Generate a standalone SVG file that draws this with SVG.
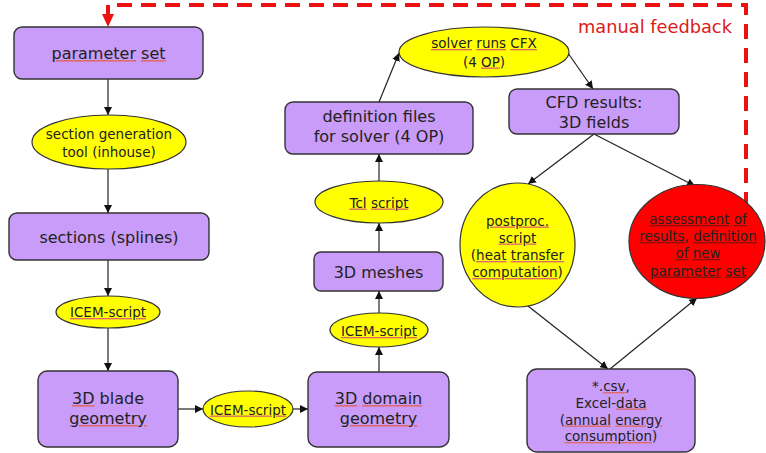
<svg xmlns="http://www.w3.org/2000/svg" width="766" height="453" viewBox="0 0 766 453">
  <defs>
    <style>
      text { font-family: "DejaVu Sans", Verdana, sans-serif; fill: #222; text-anchor: middle; }
      .box { fill: #c99cf9; stroke: #333; stroke-width: 1.4; }
      .yel { fill: #ffff00; stroke: #333; stroke-width: 1.2; }
      .red { fill: #ff0000; stroke: #333; stroke-width: 1.2; }
      .big { font-size: 16px; }
      .sm { font-size: 13.5px; }
      .edge { fill: none; stroke: #222; stroke-width: 1.2; marker-end: url(#arr); }
      .fb { fill: none; stroke: #ee1111; stroke-width: 4; stroke-dasharray: 15 9; }
      .fbt { fill: #e01818; font-size: 17.8px; text-anchor: start; }
      /* spell-check style underline: decoration takes the outer fill, word keeps the text fill */
      .sp { fill: #e06a6a; text-decoration: underline; }
      .sp tspan { fill: #222; }
      .dk .sp { fill: #8a1010; }
    </style>
    <marker id="arr" viewBox="0 0 10 10" refX="10" refY="5" markerWidth="8" markerHeight="8" markerUnits="userSpaceOnUse" orient="auto">
      <path d="M0,0 L10,5 L0,10 z" fill="#111"/>
    </marker>
  </defs>

  <!-- manual feedback loop -->
  <g id="feedback">
    <path class="fb" d="M746,207 V5 H108 V16"/>
    <path d="M102,14 L114,14 L108,27 z" fill="#ee1111"/>
    <text class="fbt" x="578" y="33">manual feedback</text>
  </g>

  <!-- connectors -->
  <g id="connectors">
    <line class="edge" x1="108" y1="79" x2="108" y2="115"/>
    <line class="edge" x1="108" y1="169" x2="108" y2="213"/>
    <line class="edge" x1="108" y1="260" x2="108" y2="296"/>
    <line class="edge" x1="108" y1="328" x2="108" y2="371"/>
    <line class="edge" x1="178" y1="409" x2="203" y2="409"/>
    <line class="edge" x1="293" y1="409" x2="308" y2="409"/>
    <line class="edge" x1="379" y1="372" x2="379" y2="347"/>
    <line class="edge" x1="379" y1="313" x2="379" y2="291"/>
    <line class="edge" x1="379" y1="252" x2="379" y2="223"/>
    <line class="edge" x1="379" y1="181" x2="379" y2="154"/>
    <line class="edge" x1="379" y1="102" x2="399" y2="53"/>
    <line class="edge" x1="568" y1="53" x2="593" y2="89"/>
    <line class="edge" x1="594" y1="134" x2="528" y2="184"/>
    <line class="edge" x1="594" y1="134" x2="695" y2="186"/>
    <line class="edge" x1="528" y1="306" x2="608" y2="369"/>
    <line class="edge" x1="610" y1="369" x2="697" y2="298"/>
  </g>

  <g id="parameter-set">
    <rect class="box" x="14" y="27" width="189" height="52" rx="8"/>
    <text class="big" x="108.5" y="59"><tspan class="sp"><tspan>parameter</tspan></tspan> <tspan class="sp"><tspan>set</tspan></tspan></text>
  </g>

  <g id="section-tool">
    <ellipse class="yel" cx="109" cy="142" rx="77" ry="27"/>
    <text class="sm" x="109" y="139">section generation</text>
    <text class="sm" x="109" y="157">tool (inhouse)</text>
  </g>

  <g id="sections">
    <rect class="box" x="9" y="213" width="200" height="47" rx="8"/>
    <text class="big" x="109" y="243">sections (splines)</text>
  </g>

  <g id="icem-1">
    <ellipse class="yel" cx="108" cy="312" rx="52" ry="16"/>
    <text class="sm" x="108" y="317"><tspan class="sp"><tspan>ICEM-script</tspan></tspan></text>
  </g>

  <g id="blade-geometry">
    <rect class="box" x="38" y="371" width="140" height="76" rx="9"/>
    <text class="big" x="108" y="404"><tspan class="sp"><tspan>3D</tspan></tspan> blade</text>
    <text class="big" x="108" y="424"><tspan class="sp"><tspan>geometry</tspan></tspan></text>
  </g>

  <g id="icem-2">
    <ellipse class="yel" cx="248" cy="409" rx="45" ry="18"/>
    <text class="sm" x="248" y="414.5"><tspan class="sp"><tspan>ICEM-script</tspan></tspan></text>
  </g>

  <g id="domain-geometry">
    <rect class="box" x="308" y="372" width="141" height="75" rx="9"/>
    <text class="big" x="378.5" y="404"><tspan class="sp"><tspan>3D</tspan></tspan> <tspan class="sp"><tspan>domain</tspan></tspan></text>
    <text class="big" x="378.5" y="424"><tspan class="sp"><tspan>geometry</tspan></tspan></text>
  </g>

  <g id="icem-3">
    <ellipse class="yel" cx="379" cy="330" rx="49" ry="17"/>
    <text class="sm" x="379" y="336"><tspan class="sp"><tspan>ICEM-script</tspan></tspan></text>
  </g>

  <g id="meshes">
    <rect class="box" x="314" y="252" width="129" height="39" rx="7"/>
    <text class="big" x="378.5" y="278">3D meshes</text>
  </g>

  <g id="tcl-script">
    <ellipse class="yel" cx="379" cy="202" rx="64" ry="21"/>
    <text class="sm" x="379" y="207.5"><tspan class="sp"><tspan>Tcl</tspan></tspan> <tspan class="sp"><tspan>script</tspan></tspan></text>
  </g>

  <g id="definition-files">
    <rect class="box" x="285" y="102" width="188" height="52" rx="8"/>
    <text class="big" x="379" y="122">definition files</text>
    <text class="big" x="379" y="142">for solver (4 OP)</text>
  </g>

  <g id="solver">
    <ellipse class="yel" cx="484" cy="52" rx="85" ry="25"/>
    <text class="sm" x="484" y="48"><tspan class="sp"><tspan>solver</tspan></tspan> <tspan class="sp"><tspan>runs</tspan></tspan> <tspan class="sp"><tspan>CFX</tspan></tspan></text>
    <text class="sm" x="484" y="66.5">(4 <tspan class="sp"><tspan>OP</tspan></tspan>)</text>
  </g>

  <g id="cfd-results">
    <rect class="box" x="509" y="89" width="170" height="45" rx="8"/>
    <text class="big" x="594" y="108">CFD results:</text>
    <text class="big" x="594" y="127.5">3D fields</text>
  </g>

  <g id="postproc">
    <ellipse class="yel" cx="517.5" cy="245" rx="57.5" ry="62"/>
    <text class="sm" x="517.5" y="225.5"><tspan class="sp"><tspan>postproc.</tspan></tspan></text>
    <text class="sm" x="517.5" y="242.5"><tspan class="sp"><tspan>script</tspan></tspan></text>
    <text class="sm" x="517.5" y="260">(<tspan class="sp"><tspan>heat</tspan></tspan> <tspan class="sp"><tspan>transfer</tspan></tspan></text>
    <text class="sm" x="517.5" y="277"><tspan class="sp"><tspan>computation</tspan></tspan>)</text>
  </g>

  <g id="assessment" class="dk">
    <ellipse class="red" cx="697" cy="241.5" rx="68" ry="57"/>
    <text class="sm" x="698" y="224"><tspan class="sp"><tspan>assessment</tspan></tspan> <tspan class="sp"><tspan>of</tspan></tspan></text>
    <text class="sm" x="698" y="241"><tspan class="sp"><tspan>results</tspan></tspan>, <tspan class="sp"><tspan>definition</tspan></tspan></text>
    <text class="sm" x="698" y="258"><tspan class="sp"><tspan>of</tspan></tspan> <tspan class="sp"><tspan>new</tspan></tspan></text>
    <text class="sm" x="698" y="275.5"><tspan class="sp"><tspan>parameter</tspan></tspan> <tspan class="sp"><tspan>set</tspan></tspan></text>
  </g>

  <g id="csv-data">
    <rect class="box" x="527" y="369" width="168" height="83" rx="10"/>
    <text class="sm" x="611" y="391">*.<tspan class="sp"><tspan>csv</tspan></tspan>,</text>
    <text class="sm" x="611" y="407.5">Excel-<tspan class="sp"><tspan>data</tspan></tspan></text>
    <text class="sm" x="611" y="424.5">(<tspan class="sp"><tspan>annual</tspan></tspan> <tspan class="sp"><tspan>energy</tspan></tspan></text>
    <text class="sm" x="611" y="441"><tspan class="sp"><tspan>consumption</tspan></tspan>)</text>
  </g>
</svg>
